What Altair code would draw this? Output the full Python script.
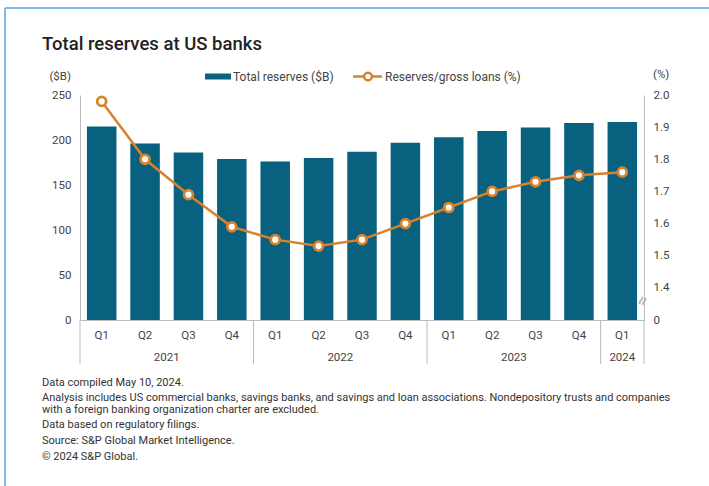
import altair as alt
import pandas as pd

# ---------------- data ----------------
years = ["2021"] * 4 + ["2022"] * 4 + ["2023"] * 4 + ["2024"]
quarters = ["Q1", "Q2", "Q3", "Q4"] * 3 + ["Q1"]
reserves = [215, 196, 186, 179, 176, 180, 187, 197, 203, 210, 214, 219, 220]
ratio = [1.98, 1.80, 1.69, 1.59, 1.55, 1.53, 1.55, 1.60, 1.65, 1.70, 1.73, 1.75, 1.76]
year_labels = ["2021", "2022", "2023", "2024"]
left_ticks = [0, 50, 100, 150, 200, 250]
right_ticks = [1.3, 1.4, 1.5, 1.6, 1.7, 1.8, 1.9, 2.0]
title_text = "Total reserves at US banks"
legend_bar = "Total reserves ($B)"
legend_line = "Reserves/gross loans (%)"
left_unit = "($B)"
right_unit = "(%)"
footnotes = [
    "Data compiled May 10, 2024.",
    "Analysis includes US commercial banks, savings banks, and savings and loan associations. Nondepository trusts and companies",
    "with a foreign banking organization charter are excluded.",
    "Data based on regulatory filings.",
    "Source: S&P Global Market Intelligence.",
    "\u00a9 2024 S&P Global.",
]

keys = [f"{y} {q}" for y, q in zip(years, quarters)]
df = pd.DataFrame({"key": keys, "year": years, "quarter": quarters,
                   "reserves": reserves, "ratio": ratio})

# ---------------- style ----------------
FONT = "Roboto"
BAR = "#07617f"
ORANGE = "#d9822b"
GRAY = "#bbbbbb"
TXT = "#444444"
W, H = 564, 225

xscale = alt.Scale(domain=keys, paddingInner=0, paddingOuter=0)
xaxis = alt.Axis(title=None, labelExpr="slice(datum.value, 5)", ticks=False, tickSize=0,
                 labelPadding=15, labelBaseline="middle", labelAngle=0,
                 labelFontSize=11.5, labelColor=TXT, labelFont=FONT,
                 domainColor=GRAY, domainWidth=1, grid=False)


def X(**kw):
    return alt.X("key:N", scale=xscale, axis=xaxis, sort=keys, **kw)


bars = alt.Chart(df).mark_bar(color=BAR, width=alt.RelativeBandSize(0.68)).encode(
    x=X(),
    y=alt.Y("reserves:Q", scale=alt.Scale(domain=[0, 250]),
            axis=alt.Axis(values=left_ticks, title=None, grid=False, ticks=False, tickSize=0,
                          labelPadding=9, labelFontSize=11.5, labelColor=TXT, labelFont=FONT,
                          domainColor=GRAY, domainWidth=1, labelAlign="right",
                          labelBaseline="middle")),
)

ryscale = alt.Scale(domain=[1.3, 2.0], zero=False)
line = alt.Chart(df).mark_line(color=ORANGE, strokeWidth=2.5).encode(
    x=X(),
    y=alt.Y("ratio:Q", scale=ryscale,
            axis=alt.Axis(orient="right", values=right_ticks, title=None, grid=False,
                          ticks=False, tickSize=0, labelPadding=9, labelFontSize=11.5,
                          labelColor=TXT, labelFont=FONT, domainColor=GRAY, domainWidth=1,
                          labelAlign="left", labelBaseline="middle",
                          labelExpr="datum.value < 1.35 ? '0' : format(datum.value, '.1f')")),
)
points = alt.Chart(df).mark_point(shape="circle", filled=True, fill="white", stroke=ORANGE,
                                  strokeWidth=2.8, size=80, opacity=1).encode(
    x=X(),
    y=alt.Y("ratio:Q", scale=ryscale, axis=None),
)

# year separators and year labels
sep_df = pd.DataFrame({"key": [k for k, q in zip(keys, quarters) if q == "Q1"]})
seps = alt.Chart(sep_df).mark_rule(color=GRAY, strokeWidth=1).encode(
    x=X(bandPosition=0), y=alt.value(H), y2=alt.value(H + 44))
end_sep = alt.Chart(pd.DataFrame({"key": [keys[-1]]})).mark_rule(color=GRAY, strokeWidth=1).encode(
    x=X(bandPosition=1), y=alt.value(H), y2=alt.value(H + 44))

full_years = [y for y in year_labels if years.count(y) == 4]
mid_df = pd.DataFrame({"key": [f"{y} Q3" for y in full_years], "year": full_years})
ylab_full = alt.Chart(mid_df).mark_text(font=FONT, fontSize=11.5, color=TXT, baseline="middle").encode(
    x=X(bandPosition=0), y=alt.value(H + 37.5), text="year:N")
part_years = [y for y in year_labels if years.count(y) < 4]
part_df = pd.DataFrame({"key": [f"{y} Q1" for y in part_years], "year": part_years})
ylab_part = alt.Chart(part_df).mark_text(font=FONT, fontSize=11.5, color=TXT, baseline="middle").encode(
    x=X(bandPosition=0.5), y=alt.value(H + 37.5), text="year:N")


def label(txt, x, y, size=11, align="left", weight="normal", color=TXT, angle=0):
    return alt.Chart(pd.DataFrame({"t": [txt]})).mark_text(
        font=FONT, fontSize=size, align=align, baseline="middle", fontWeight=weight,
        color=color, angle=angle).encode(x=alt.value(x), y=alt.value(y), text="t:N")


deco = [
    label(title_text, -38, -51, size=18.5, weight=500, color="#222222"),
    label(left_unit, -9, -18, size=11.5, align="right"),
    label(right_unit, W + 9, -20, size=11.5),
    label(legend_bar, 153, -18.5, size=12),
    label(legend_line, 305, -18.5, size=12),
    label("\u2248", W - 1, 206, size=17, align="center", color="#aaaaaa", angle=290),
]
fn_y = [288, 303, 315, 330, 346, 362]
for t, yy in zip(footnotes, fn_y):
    deco.append(label(t, -38, yy, size=11, color="#333333"))

one = pd.DataFrame({"a": [0]})
leg_rect = alt.Chart(one).mark_rect(color=BAR).encode(
    x=alt.value(125), x2=alt.value(151), y=alt.value(-21.5), y2=alt.value(-15.5))
leg_line = alt.Chart(one).mark_rule(color=ORANGE, strokeWidth=2.5).encode(
    x=alt.value(273), x2=alt.value(302), y=alt.value(-18.5))
leg_pt = alt.Chart(one).mark_point(shape="circle", filled=True, fill="white", stroke=ORANGE,
                                   strokeWidth=2.5, size=60, opacity=1).encode(
    x=alt.value(288), y=alt.value(-18.5))

BORDER = "#7dbfe3"
border_top = alt.Chart(one).mark_rule(color=BORDER, strokeWidth=2).encode(
    x=alt.value(-75), x2=alt.value(640), y=alt.value(-87))
border_left = alt.Chart(one).mark_rule(color=BORDER, strokeWidth=2).encode(
    x=alt.value(-75), y=alt.value(-87), y2=alt.value(400))

chart = alt.layer(
    bars, line, points, seps, end_sep, ylab_full, ylab_part,
    leg_rect, leg_line, leg_pt, border_top, border_left, *deco
).resolve_scale(y="independent").properties(
    width=W, height=H,
    autosize=alt.AutoSizeParams(type="none"),
    padding={"left": 80, "top": 95, "right": 65, "bottom": 166},
    background="white",
).configure_view(stroke=None)

chart.save("out.html", embed_options={"renderer": "svg", "actions": False})
